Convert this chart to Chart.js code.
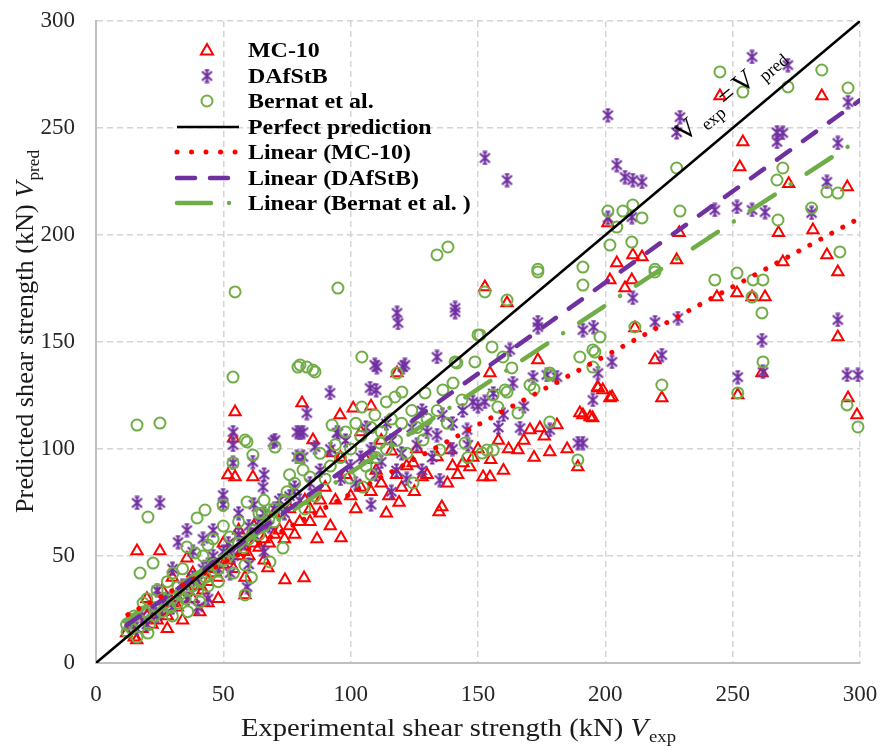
<!DOCTYPE html>
<html><head><meta charset="utf-8">
<script src="https://cdn.jsdelivr.net/npm/chart.js@4.4.0/dist/chart.umd.min.js"></script>
<style>html,body{margin:0;padding:0;background:#fff}#wrap{width:881px;height:746px;position:relative}</style>
</head><body><div id="wrap"><canvas id="c" width="881" height="746"></canvas></div>
<script>
// ---------- DATA (values in kN) ----------
const xTickValues = [0, 50, 100, 150, 200, 250, 300];
const yTickValues = [0, 50, 100, 150, 200, 250, 300];
const seriesNames = ['MC-10', 'DAfStB', 'Bernat et al.', 'Perfect prediction', 'Linear (MC-10)', 'Linear (DAfStB)', 'Linear (Bernat et al. )'];

const mc10Points = [
 [245,265],[285,265],[254,243.5],[252.8,231.8],[272,224],[295,222.4],[229,201],[268,201],[281.5,202.3],[201,205.6],
 [210.8,190.7],[214.4,189.7],[204.5,186.9],[228,188.3],[201.8,179],[210.4,179],[207.7,175.2],[269.7,187.4],[287,190.7],[291.3,182.7],
 [243.8,171],[251.7,172.9],[257.6,171],[262.7,171],[211.6,156.5],[219.5,141.6],[222.2,123.8],[201.8,123.8],[199,127.6],[252,125.2],
 [261.5,135.5],[291.3,152.3],[295.3,123.8],[298.8,115.9],[191.2,115.9],[195,114.5],[197,129],[202.6,124.3],
 [152.7,175.7],[161.4,168.2],[173.5,141.6],[95.8,115.9],[118.2,135.5],[154.7,135.5],[80.9,121.5],[85.2,104.2],[92.7,98.1],[190,116.8],
 [194,115],[170.4,108.9],[174.3,109.8],[181,111.2],[165.7,99.5],[178.2,98.6],[189.2,91.6],[152,86.9],[154.7,86.9],[139,99.5],
 [133.9,96.3],[144.1,93.5],[146.8,91.6],[128,86.9],[124.5,93.5],[135.8,72.9],[134.7,70.6],[96.2,58.4],[86.8,57.9],[81.7,39.7],[197.1,128.5],
 [100,78],[104,82],[108,80],[112,84],[115,78],[118,88],[120,82],[122,92],[125,80],[110,90],[106,95],[98,88],[102,72],[94,76],[90,82],
 [88,70],[92,64],[114,70],[119,75],[126,100],[130,88],[138,84],[140,92],[142,88],[148,96],[158,104],[162,100],[150,100],[155,95],[160,90],
 [168,104],[172,96],[185,100],[176,106],[116,99],[112,104],[104,108],[84,66],[82,76],[96,96],[108,120],[101,119],
 [16.1,52.3],[25.1,52.3],[54.6,117.3],[54.6,86.9],[61.6,86.9],[35.7,49],[40.8,23.8],[58.5,40],[67.5,44.4],[74.2,38.8],
 [58.5,31.8],[16,10.7],[54,105],[51.8,87.9],
 [12,14],[14,18],[15,12],[18,16],[20,22],[22,18],[24,20],[26,24],[28,22],[30,28],[32,26],[34,30],[36,34],[38,30],[40,36],
 [42,34],[44,38],[45,44],[46,42],[48,40],[50,46],[52,48],[54,44],[56,50],[58,52],[60,50],[62,56],[64,54],[66,58],[68,56],
 [70,60],[72,62],[74,58],[76,64],[78,60],[80,66],[48,30],[44,28],[20,30],[26,34],[30,40],[38,42],[50,56],[56,62],[62,64],
 [70,70],[76,72],[84,72],[88,76],[66,48],[34,20],[28,16]
];

const dafstbPoints = [
 [257.6,283.2],[271.7,279.4],[201,256],[229.3,255.1],[228,248],[267.4,248],[269.7,247.7],[267.4,243.5],[291.3,243],[295.3,262.1],
 [204.5,232.7],[207.7,227.1],[210.8,225.7],[214.4,224.8],[287,224.8],[243,211.7],[251.7,213.1],[257.6,211.7],[262.7,210.7],[281,210.3],
 [201,208],[210.4,208.4],[228.5,161.2],[222.2,143.9],[210.8,170.6],[252,133.6],[261.5,150.9],[261.9,136],[291.3,160.3],[294.9,134.6],
 [299.2,134.6],[219.5,159.3],[195.4,157],[197.1,135.5],[195.1,122.9],[202.6,140.7],[191.2,102.8],[152.7,236],[161.4,225.7],
 [118.2,163.6],[118.6,158.9],[141,165.9],[141,164],[133.9,143],[173.5,159.3],[173.5,157],[191.2,155.6],[162.5,146.3],[110.3,138.3],
 [120.5,138.3],[91.9,126.2],[107.6,128.5],[110,127.5],[82.8,116.8],[95,107.5],[81.3,107.9],[86,100.9],[171.6,133.6],[177,134.6],
 [181,133.6],[189.2,102.8],[166.5,109.8],[178.2,108.9],[152.7,122],[148,122],[145.7,108.9],[135,85.5],[163.7,130.8],[133.9,106.5],
 [80.1,107.5],[94.6,107.5],[81.3,96.3],[109.5,139.3],[121.3,139.3],
 [100,92],[104,96],[108,100],[112,94],[116,104],[120,98],[124,110],[126,102],[114,112],[106,110],[98,104],[92,100],[88,90],[96,86],
 [102,84],[110,88],[118,90],[122,86],[130,108],[136,116],[140,112],[144,118],[150,120],[156,126],[158,110],[146,102],[132,96],[128,118],
 [116,80],[84,84],[108,74],[160,116],[168,120],[140,100],[128,90],
 [16.1,74.8],[25.1,74.8],[53.8,107.9],[53.8,101.9],[53.8,93.5],[61.6,93.9],[65.6,82.2],[69.5,103.3],[78.9,107.9],[78.9,96.3],
 [49.9,78.5],[70.3,104.2],[35.7,62.1],[32.2,56.5],[49.9,74],[59.3,35.5],[52.6,42],[12.6,17.8],
 [14,20],[16,16],[18,22],[20,18],[22,24],[24,22],[26,26],[28,30],[30,26],[32,32],[34,36],[36,30],[38,40],[40,38],[42,44],
 [44,46],[46,50],[48,44],[50,52],[52,56],[54,50],[56,60],[58,56],[60,64],[62,60],[64,66],[66,70],[68,64],[70,72],[72,76],
 [74,70],[76,78],[78,82],[80,76],[42,58],[46,62],[38,52],[56,70],[62,74],[66,88],[30,44],[24,34],[44,30],[40,26],[60,46],[66,52]
];

const bernatPoints = [
 [245,276.2],[285,277.1],[271.7,269.2],[295.3,268.7],[254,266.8],[228,231.3],[269.7,231.3],[267.4,225.7],[287,220.1],[291.3,219.6],
 [201,211.2],[206.9,211.2],[210.8,214],[214.4,208],[204.5,203.7],[229.3,211.2],[267.8,207],[281,212.6],[201.8,195.3],[210.4,196.7],
 [219.5,182.7],[219.5,184],[243,179],[251.7,182.2],[258,179],[261.9,179],[257.6,171],[261.5,163.6],[211.6,157],[222.2,129.9],
 [252,126.2],[261.9,140.7],[292.1,192.1],[294.9,120.6],[299.2,110.3],[197.9,152.3],[191.2,185],[191.2,176.6],[195.9,145.3],
 [133.9,190.7],[138.2,194.4],[95,175.2],[173.5,182.7],[173.5,184],[152.7,173.4],[161.4,169.6],[82.8,138.3],[86,136],[104.4,143],
 [118.2,135.5],[150.8,153.3],[155.5,147.7],[159.8,143],[163.3,137.9],[178.2,135.5],[165.7,116.8],[178.2,112.6],[189.2,94.9],[195.1,146.3],
 [150,153.3],[141,140.7],[148.8,140.7],[170.4,129.9],[172,128],[178.2,134.6],[160.6,127.6],[190,143],[195.1,138.3],[153.5,99.5],
 [156,99.5],[144.9,102.8],[151.6,98.1],[155.9,125.2],[157.8,119.6],[161.4,126.6],[80.1,139.3],[85.2,136.9],[92.7,111.2],[104.4,119.6],
 [109.5,115.9],[117.4,124.3],[120.1,126.6],[114,122],[129.2,126.2],[136.2,127.6],[140.2,130.8],[143.7,122.9],[141.7,140.2],[128.4,104.2],
 [111.5,102.8],[114,100],[81.3,90.2],[84,86.9],[99.7,86.4],[104.8,82.2],[124.5,84.1],[135,99.5],[146,96],
 [100,100],[104,106],[108,110],[112,108],[116,114],[120,112],[124,118],[96,96],[92,92],[88,98],[106,92],[110,96],[118,104],[122,98],
 [126,110],[130,114],[134,118],[138,112],[102,112],[98,108],[94,102],[90,86],[108,88],
 [54.6,173.4],[53.8,133.6],[16.1,111.2],[25.1,112.1],[79.3,138.3],[59.3,103.3],[61.6,97.2],[53.8,93.5],[70.3,100.9],[20.4,68.2],
 [39.7,67.8],[42.8,71.5],[49.9,73.8],[58.5,104.2],[59.3,75.2],[65.2,70.1],[22.4,46.7],[17.3,42],[30.2,42],[35.7,54.2],
 [38.9,51.4],[44,55.1],[52.6,58.9],[58.5,45.8],[68.3,47.2],[73.4,53.7],[58.5,31.8],[40.8,28.5],[32.2,35.5],[12.2,14.5],
 [16.1,12.1],[20.4,14],[18.5,28],[61,40],[64,70],[66,76],[70,66],[75,80],[78,84],[82,72],[86,78],[80,96],[76,88],
 [12,18],[14,16],[15,22],[17,20],[19,24],[21,18],[23,22],[24,26],[26,24],[27,28],[29,26],[30,30],[32,28],[33,32],[35,30],
 [36,34],[38,36],[40,34],[41,38],[43,40],[45,42],[46,46],[48,44],[50,48],[52,50],[54,52],[56,56],[58,54],[60,58],[62,62],
 [64,60],[66,64],[68,68],[70,72],[72,70],[74,76],[20,30],[24,34],[28,38],[34,44],[42,50],[46,58],[50,64],[56,66],[30,22],
 [36,24],[44,36],[48,38],[54,42]
];

const perfectLine = [[0,0],[300,300]];
const mc10Trend = [[12.5,22.6],[300,208]];
const dafstbTrend = [[12,17.6],[300,263]];
const bernatTrend = [[11,19.6],[300,245]];

// ---------- STYLE ----------
const RED = '#FF0000', PURPLE = '#7030A0', GREEN = '#70AD47';
const SERIF = '"Liberation Serif", "Times New Roman", serif';
const toXY = a => a.map(p => ({x: p[0], y: p[1]}));

function makeStar(color) {
  const c = document.createElement('canvas');
  c.width = 15; c.height = 15;
  const g = c.getContext('2d');
  g.strokeStyle = color; g.lineWidth = 2.2;
  g.beginPath();
  g.moveTo(2.5, 3); g.lineTo(12.5, 12);
  g.moveTo(12.5, 3); g.lineTo(2.5, 12);
  g.moveTo(7.5, 0.5); g.lineTo(7.5, 14.5);
  g.moveTo(5.2, 1.5); g.lineTo(9.8, 1.5);
  g.moveTo(5.2, 13.5); g.lineTo(9.8, 13.5);
  g.stroke();
  return c;
}
const starImg = makeStar(PURPLE);

const DASH_RED = [0.01, 12.5];
const DASH_PURPLE = [16, 16];
const DASH_GREEN = [30, 19, 0.01, 19];

function drawParts(ctx, parts) {
  let x = 0;
  parts.forEach(p => {
    ctx.font = p.f;
    ctx.fillText(p.t, x, p.dy || 0);
    x += ctx.measureText(p.t).width + (p.gap || 0);
  });
  return x;
}
function partsWidth(ctx, parts) {
  let w = 0;
  parts.forEach(p => { ctx.font = p.f; w += ctx.measureText(p.t).width + (p.gap || 0); });
  return w;
}

const decorPlugin = {
  id: 'decor',
  afterDatasetsDraw(chart) {
    const ctx = chart.ctx;
    // legend
    const mx = 207, tx = 248, rows = [50, 76, 101, 127, 152, 178, 203];
    const lx1 = 177, lx2 = 239;
    ctx.save();
    ctx.strokeStyle = RED; ctx.lineWidth = 2;
    const r = 7, y0 = rows[0] + 1;
    ctx.beginPath();
    ctx.moveTo(mx, y0 - r); ctx.lineTo(mx + 0.866 * r, y0 + 0.5 * r); ctx.lineTo(mx - 0.866 * r, y0 + 0.5 * r); ctx.closePath();
    ctx.stroke();
    ctx.drawImage(starImg, mx - 7.5, rows[1] - 7.5);
    ctx.strokeStyle = GREEN; ctx.lineWidth = 2;
    ctx.beginPath(); ctx.arc(mx, rows[2], 5.5, 0, Math.PI * 2); ctx.stroke();
    const seg = (y, color, w, dash, cap) => {
      ctx.save(); ctx.strokeStyle = color; ctx.lineWidth = w; ctx.setLineDash(dash); ctx.lineCap = cap;
      ctx.beginPath(); ctx.moveTo(lx1, y); ctx.lineTo(lx2, y); ctx.stroke(); ctx.restore();
    };
    seg(rows[3], '#000', 2.5, [], 'butt');
    seg(rows[4], RED, 5, [0.01, 14.5], 'round');
    seg(rows[5], PURPLE, 4.5, [18, 15], 'round');
    seg(rows[6], GREEN, 4.5, [34, 18, 0.01, 30], 'round');
    ctx.fillStyle = '#000';
    ctx.textBaseline = 'alphabetic';
    ctx.font = 'bold 21px ' + SERIF;
    seriesNames.forEach((t, i) => {
      ctx.save(); ctx.translate(tx, rows[i] + 7); ctx.scale(1.14, 1); ctx.fillText(t, 0, 0); ctx.restore();
    });
    ctx.restore();

    // annotation along the perfect line
    ctx.save();
    ctx.fillStyle = '#000';
    ctx.translate(684, 143);
    ctx.rotate(-40.04 * Math.PI / 180);
    drawParts(ctx, [
      {t: 'V', f: '28px ' + SERIF, gap: 5},
      {t: 'exp', f: '18px ' + SERIF, dy: 6, gap: 4},
      {t: '=', f: '28px ' + SERIF, gap: 4},
      {t: 'V', f: '28px ' + SERIF, gap: 6},
      {t: 'pred', f: '18px ' + SERIF, dy: 6}
    ]);
    ctx.restore();
  },
  afterDraw(chart) {
    const ctx = chart.ctx;
    ctx.save();
    ctx.fillStyle = '#1a1a1a';
    ctx.textBaseline = 'alphabetic';
    const xp = [
      {t: 'Experimental shear strength (kN) ', f: '26px ' + SERIF},
      {t: 'V', f: 'italic 26px ' + SERIF, gap: 1},
      {t: 'exp', f: '17px ' + SERIF, dy: 6}
    ];
    const xw = partsWidth(ctx, xp);
    ctx.save(); ctx.translate(241, 736); ctx.scale(435 / xw, 1); drawParts(ctx, xp); ctx.restore();
    const yp = [
      {t: 'Predicted shear strength (kN) ', f: '26px ' + SERIF},
      {t: 'V', f: 'italic 26px ' + SERIF, gap: 1},
      {t: 'pred', f: '17px ' + SERIF, dy: 6}
    ];
    const yw = partsWidth(ctx, yp);
    ctx.save(); ctx.translate(33, 513); ctx.rotate(-Math.PI / 2); ctx.scale(363 / yw, 1); drawParts(ctx, yp); ctx.restore();
    ctx.restore();
  }
};

const gridOpts = {color: '#D4D4D4', lineWidth: 1.5, drawTicks: false};
const borderOpts = {display: true, color: '#BFBFBF', width: 2, dash: [6, 4]};
const tickFont = {family: SERIF, size: 23};

new Chart(document.getElementById('c'), {
  type: 'scatter',
  data: {
    datasets: [
      {label: seriesNames[3], data: toXY(perfectLine), showLine: true, borderColor: '#000', borderWidth: 2.5, pointRadius: 0, order: 0},
      {label: seriesNames[4], data: toXY(mc10Trend), showLine: true, borderColor: RED, borderWidth: 5, borderDash: DASH_RED, borderCapStyle: 'round', pointRadius: 0, order: 1},
      {label: seriesNames[5], data: toXY(dafstbTrend), showLine: true, borderColor: PURPLE, borderWidth: 4.5, borderDash: DASH_PURPLE, borderCapStyle: 'round', pointRadius: 0, order: 2},
      {label: seriesNames[6], data: toXY(bernatTrend), showLine: true, borderColor: GREEN, borderWidth: 4.5, borderDash: DASH_GREEN, borderCapStyle: 'round', pointRadius: 0, order: 3},
      {label: seriesNames[2], data: toXY(bernatPoints), pointStyle: 'circle', pointRadius: 5.5, pointHoverRadius: 5.5, borderColor: GREEN, backgroundColor: 'rgba(0,0,0,0)', pointBorderWidth: 2, clip: 12, order: 4},
      {label: seriesNames[1], data: toXY(dafstbPoints), pointStyle: starImg, pointRadius: 7, borderColor: PURPLE, backgroundColor: PURPLE, clip: 12, order: 5},
      {label: seriesNames[0], data: toXY(mc10Points), pointStyle: 'triangle', pointRadius: 6.5, pointHoverRadius: 6.5, borderColor: RED, backgroundColor: 'rgba(0,0,0,0)', pointBorderWidth: 2, clip: 12, order: 6}
    ]
  },
  options: {
    responsive: false,
    animation: false,
    devicePixelRatio: 1,
    layout: {padding: {left: 0, top: 21, right: 21, bottom: 0}},
    plugins: {legend: {display: false}, tooltip: {enabled: false}, title: {display: false}},
    scales: {
      x: {
        type: 'linear', min: 0, max: 300,
        afterBuildTicks: s => { s.ticks = xTickValues.map(v => ({value: v})); },
        ticks: {font: tickFont, color: '#262626', padding: 18, maxRotation: 0, autoSkip: false},
        grid: gridOpts, border: borderOpts,
        afterFit: s => { s.height = 83; s.paddingLeft = 0; s.paddingRight = 0; }
      },
      y: {
        type: 'linear', min: 0, max: 300,
        afterBuildTicks: s => { s.ticks = yTickValues.map(v => ({value: v})); },
        ticks: {font: tickFont, color: '#262626', padding: 21, autoSkip: false},
        grid: gridOpts, border: borderOpts,
        afterFit: s => { s.width = 96; s.paddingTop = 0; s.paddingBottom = 0; }
      }
    }
  },
  plugins: [decorPlugin]
});
</script>
</body></html>
